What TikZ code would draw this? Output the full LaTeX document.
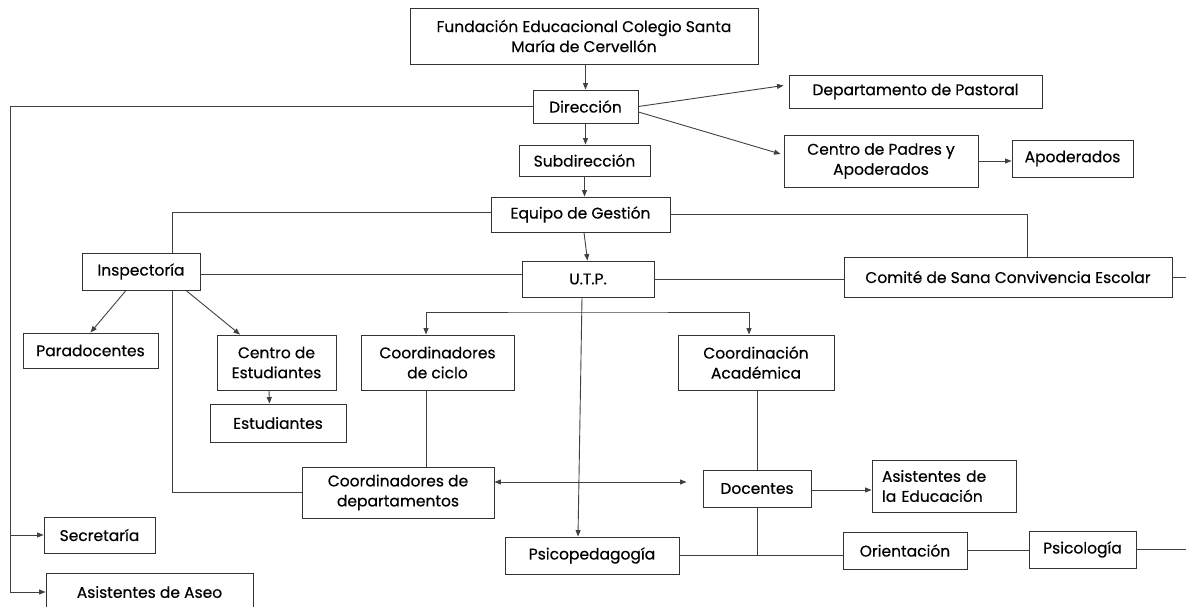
\documentclass[tikz,border=0pt]{standalone}
\usepackage{fontspec}
\setmainfont{Poppins}[UprightFeatures={FakeBold=0.4}]
\usetikzlibrary{arrows.meta,calc}
\tikzset{
  box/.style={draw=black!80, line width=0.9pt, fill=white, inner sep=2pt, align=center,
    font=\fontsize{15.5}{20}\selectfont},
  ln/.style={draw=black!75, line width=0.9pt},
  arr/.style={ln, -{Triangle[length=6.5pt,width=5pt]}},
  darr/.style={ln, {Triangle[length=6.5pt,width=5pt]}-{Triangle[length=6.5pt,width=5pt]}},
}
\begin{document}
\begin{tikzpicture}[x=1pt,y=-1pt]
\useasboundingbox (0,0) rectangle (1186,607);
% nodes
\node[box, minimum width=348pt, minimum height=56pt] (fund) at (584,36) {Fundación Educacional Colegio Santa\\María de Cervellón};
\node[box, minimum width=105pt, minimum height=33pt] (dir) at (585.5,106.5) {Dirección};
\node[box, minimum width=253pt, minimum height=33pt] (pastoral) at (915.5,91.5) {Departamento de Pastoral};
\node[box, minimum width=194pt, minimum height=52pt] (cpadres) at (881,161) {Centro de Padres y\\Apoderados};
\node[box, minimum width=121pt, minimum height=37pt] (apod) at (1072.5,158.5) {Apoderados};
\node[box, minimum width=131pt, minimum height=31pt] (subdir) at (584.5,160.5) {Subdirección};
\node[box, minimum width=179pt, minimum height=35pt] (equipo) at (580.5,214.5) {Equipo de Gestión};
\node[box, minimum width=118pt, minimum height=37pt] (insp) at (141,271.5) {Inspectoría};
\node[box, minimum width=132pt, minimum height=36pt] (utp) at (588,279) {U.T.P.};
\node[box, minimum width=328pt, minimum height=40pt] (comite) at (1008,277) {Comité de Sana Convivencia Escolar};
\node[box, minimum width=135pt, minimum height=35pt] (parad) at (90.5,350.5) {Paradocentes};
\node[box, minimum width=119pt, minimum height=55pt] (cest) at (276.5,362.5) {Centro de\\Estudiantes};
\node[box, minimum width=136pt, minimum height=38pt] (est) at (278,423) {Estudiantes};
\node[box, minimum width=153pt, minimum height=55pt] (cciclo) at (437.5,362.5) {Coordinadores\\de ciclo};
\node[box, minimum width=156pt, minimum height=55pt] (cacad) at (756,362.5) {Coordinación\\Académica};
\node[box, minimum width=192pt, minimum height=51pt] (cdep) at (398,492.5) {Coordinadores de\\departamentos};
\node[box, minimum width=108pt, minimum height=37pt] (doc) at (757,488.5) {Docentes};
\node[box, minimum height=52pt, text width=124pt, inner xsep=10pt, inner ysep=2pt, align=left] (asist) at (944,486) {Asistentes de\\la Educación};
\node[box, minimum width=111pt, minimum height=36pt] (secr) at (99.5,535) {Secretaría};
\node[box, minimum width=207pt, minimum height=38pt] (aseo) at (149.5,592) {Asistentes de Aseo};
\node[box, minimum width=174pt, minimum height=37pt] (psicoped) at (592,555.5) {Psicopedagogía};
\node[box, minimum width=124pt, minimum height=37pt] (orient) at (905,550.5) {Orientación};
\node[box, minimum width=107pt, minimum height=37pt] (psicol) at (1082.5,549.5) {Psicología};
% helper coordinates
\coordinate (trunk) at (10,0);
\coordinate (redge) at (1186,0);
\coordinate (brk) at (588,312);
% connectors top
\draw[arr] (fund.south -| dir.north) -- (dir.north);
\draw[arr] (dir.south) -- (dir.south |- subdir.north);
\draw[arr] (subdir.south) -- (subdir.south |- equipo.north);
\draw[arr] (dir.east) -- ([xshift=-5pt,yshift=6pt]pastoral.west);
\draw[arr] ([yshift=-5.5pt]dir.east) -- ([xshift=-3pt,yshift=7pt]cpadres.west);
\draw[arr] (cpadres.east) -- (cpadres.east -| apod.west);
% left trunk
\draw[ln] (dir.west) -- (trunk |- dir.west) -- (trunk |- aseo.west);
\draw[arr] (trunk |- secr.west) -- (secr.west);
\draw[arr] (trunk |- aseo.west) -- (aseo.west);
% equipo branches
\draw[ln] ([yshift=2pt]equipo.west) -| ([xshift=31pt]insp.north);
\draw[ln] (equipo.east) -| ([xshift=19pt]comite.north);
\draw[arr] ([xshift=3.5pt]equipo.south) -- ([xshift=-0.5pt]utp.north);
\draw[ln] ([yshift=-2.5pt]insp.east) -- ([yshift=-2.5pt]insp.east -| utp.west);
\draw[ln] (utp.east) -- (utp.east -| comite.west);
\draw[ln] (comite.east) -- (redge |- comite.east);
% inspectoria
\draw[arr] ([xshift=-15pt]insp.south) -- (parad.north);
\draw[arr] ([xshift=45pt]insp.south) -- ([xshift=-36.5pt]cest.north);
\draw[arr] ([xshift=-7.5pt]cest.south) -- ([xshift=-8.5pt]est.north);
\draw[ln] ([xshift=31pt]insp.south) |- (cdep.west);
% utp
\draw[darr] ([xshift=-11.5pt]cciclo.north) |- (brk) -| ([xshift=-7pt]cacad.north);
\draw[arr] ([xshift=-6pt]utp.south) -- ([xshift=-14pt]psicoped.north);
\draw[ln] ([xshift=-11.5pt]cciclo.south) -- ([xshift=-11.5pt]cciclo.south |- cdep.north);
\draw[ln] ([xshift=1pt]cacad.south) -- (doc.north);
\coordinate (dstart) at ([yshift=10.5pt]cdep.east);
\coordinate (dend) at ([xshift=-16pt]doc.west);
\draw[darr] (dstart) -- (dstart -| dend);
\draw[arr] ([yshift=-1.5pt]doc.east) -- ([yshift=-1.5pt]doc.east -| asist.west);
\draw[ln] (psicoped.east) -- (psicoped.east -| orient.west);
\draw[ln] (doc.south) -- (doc.south |- psicoped.east);
\draw[ln] (orient.east) -- (orient.east -| psicol.west);
\draw[ln] (psicol.east) -- (redge |- psicol.east);
\end{tikzpicture}
\end{document}
